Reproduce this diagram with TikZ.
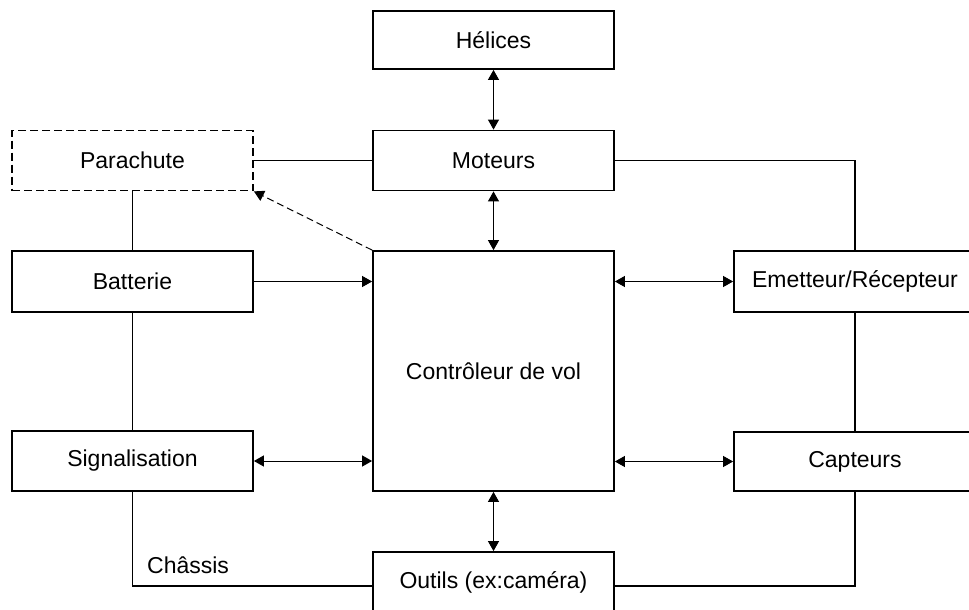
\documentclass[tikz,border=0pt]{standalone}
\usepackage{fontspec}
\setmainfont{Liberation Sans}
\usetikzlibrary{arrows.meta}
\begin{document}
\begin{tikzpicture}[x=1pt,y=-1pt,
  box/.style={draw=black,line width=1.8pt,minimum width=241pt,minimum height=60pt,inner sep=0pt,
    font=\fontsize{23}{27}\selectfont,fill=white},
  dbox/.style={box,dash pattern=on 8pt off 4pt},
  wire/.style={line width=1.8pt},
  arr/.style={line width=1pt,-{Triangle[length=10pt,width=11pt]}},
  darr/.style={line width=1pt,{Triangle[length=10pt,width=11pt]}-{Triangle[length=10pt,width=11pt]}},
  dashedarr/.style={line width=1pt,dash pattern=on 7pt off 4pt,-{Triangle[length=10pt,width=11pt]}}]
\useasboundingbox (0,0) rectangle (969,610);
\clip (0,0) rectangle (969,610);
\fill[white] (0,0) rectangle (969,610);
% nodes
\node[box,minimum height=58pt] (helices) at (493.5,40) {Hélices};
\node[box] (moteurs) at (493.5,160.5) {Moteurs};
\node[dbox] (parachute) at (132.5,160.5) {Parachute};
\node[box,minimum height=61pt] (batterie) at (132.5,281.5) {Batterie};
\node[box,minimum height=240pt] (ctrl) at (493.5,371) {Contrôleur de vol};
\node[box,minimum width=242pt,minimum height=61pt] (emet) at (855,281.5) {Emetteur/Récepteur};
\node[box] (signal) at (132.5,461) {Signalisation};
\node[box,minimum width=242pt,minimum height=59pt] (capt) at (855,461.5) {Capteurs};
\node[box] (outils) at (493.5,582) {Outils (ex:caméra)};
\node[anchor=base west,inner sep=0pt,font=\fontsize{23}{27}\selectfont] (chassis) at (147,573) {Châssis};
% wires
\coordinate (cl) at (132.5,586);
\coordinate (cr) at (855,586);
\draw[wire] (parachute.east) -- (moteurs.west);
\draw[wire] (moteurs.east) -| (emet.north);
\draw[wire] (parachute.south) -- (batterie.north);
\draw[wire] (batterie.south) -- (signal.north);
\draw[wire] (emet.south) -- (capt.north);
\draw[wire] (signal.south) -- (cl) -- (outils.west |- cl);
\draw[wire] (capt.south) -- (cr) -- (outils.east |- cr);
% arrows
\draw[darr] (helices.south) -- (moteurs.north);
\draw[darr] (moteurs.south) -- (ctrl.north);
\draw[darr] (ctrl.south) -- (outils.north);
\draw[arr] (batterie.east) -- (batterie.east -| ctrl.west);
\draw[darr] (ctrl.east |- emet.west) -- (emet.west);
\draw[darr] (signal.east) -- (signal.east -| ctrl.west);
\draw[darr] (ctrl.east |- capt.west) -- (capt.west);
\draw[dashedarr] (ctrl.north west) -- (parachute.south east);
\end{tikzpicture}
\end{document}
